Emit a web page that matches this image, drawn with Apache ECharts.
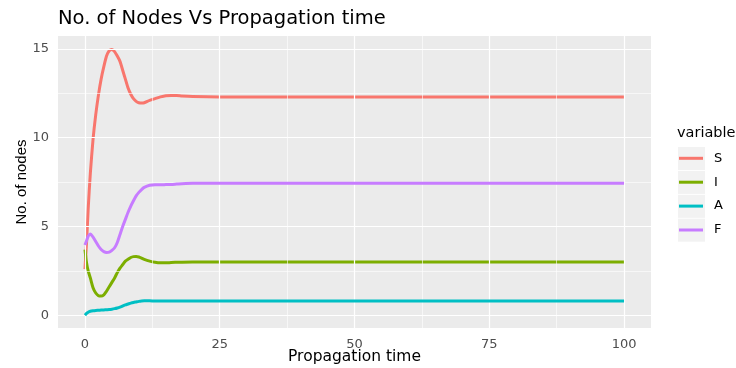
<!DOCTYPE html>
<html><head><meta charset="utf-8">
<script src="https://cdn.jsdelivr.net/npm/echarts@6/dist/echarts.min.js"></script>
<style>html,body{margin:0;padding:0;background:#fff}#c{width:736px;height:368px}</style>
</head><body><div id="c"></div>
<script>
const times = [0, 0.3, 0.6, 1, 1.5, 2, 2.5, 3, 3.5, 4, 4.5, 5, 5.5, 6, 6.5, 7, 7.5, 8, 8.5, 9, 9.5, 10, 10.5, 11, 12, 13, 14, 15, 16, 17, 18, 20, 25, 30, 40, 50, 60, 70, 80, 90, 100];
const S = [2.6, 4.1, 6.0, 8.0, 9.9, 11.3, 12.4, 13.3, 14.0, 14.6, 14.9, 14.97, 14.85, 14.6, 14.3, 13.8, 13.3, 12.8, 12.45, 12.2, 12.05, 11.97, 11.95, 11.97, 12.1, 12.2, 12.3, 12.37, 12.38, 12.38, 12.35, 12.32, 12.3, 12.3, 12.3, 12.3, 12.3, 12.3, 12.3, 12.3, 12.3];
const I = [3.7, 2.95, 2.5, 2.1, 1.55, 1.25, 1.1, 1.08, 1.15, 1.35, 1.6, 1.85, 2.1, 2.4, 2.65, 2.85, 3.05, 3.15, 3.25, 3.3, 3.31, 3.28, 3.22, 3.15, 3.05, 2.98, 2.95, 2.95, 2.97, 2.98, 2.99, 3.0, 3.0, 3.0, 3.0, 3.0, 3.0, 3.0, 3.0, 3.0, 3.0];
const A = [0.0, 0.1, 0.17, 0.22, 0.25, 0.27, 0.28, 0.29, 0.3, 0.31, 0.32, 0.34, 0.37, 0.41, 0.46, 0.52, 0.58, 0.63, 0.68, 0.72, 0.75, 0.78, 0.8, 0.81, 0.81, 0.8, 0.8, 0.8, 0.8, 0.8, 0.8, 0.8, 0.8, 0.8, 0.8, 0.8, 0.8, 0.8, 0.8, 0.8, 0.8];
const F = [3.95, 4.2, 4.45, 4.58, 4.4, 4.15, 3.9, 3.7, 3.58, 3.53, 3.55, 3.65, 3.8, 4.1, 4.55, 5.0, 5.4, 5.8, 6.15, 6.45, 6.72, 6.92, 7.08, 7.2, 7.32, 7.35, 7.35, 7.36, 7.37, 7.39, 7.41, 7.43, 7.43, 7.43, 7.43, 7.43, 7.43, 7.43, 7.43, 7.43, 7.43];
const seriesNames = ['S', 'I', 'A', 'F'];
const seriesValues = [S, I, A, F];
const colors = ['#F8766D', '#7CAE00', '#00BFC4', '#C77CFF'];
const xTicks = [0, 25, 50, 75, 100];
const xMinor = [12.5, 37.5, 62.5, 87.5];
const yTicks = [0, 5, 10, 15];
const yMinor = [2.5, 7.5, 12.5];

const chart = echarts.init(document.getElementById('c'), null, {renderer: 'canvas'});
const gridLines = [];
xMinor.forEach(v => gridLines.push({xAxis: v, lineStyle: {width: 0.6}}));
yMinor.forEach(v => gridLines.push({yAxis: v, lineStyle: {width: 0.6}}));
xTicks.forEach(v => gridLines.push({xAxis: v, lineStyle: {width: 1.2}}));
yTicks.forEach(v => gridLines.push({yAxis: v, lineStyle: {width: 1.2}}));

const series = [{
  name: 'grid', type: 'line', data: [], z: 1, silent: true,
  markLine: {silent: true, symbol: ['none', 'none'], label: {show: false}, animation: false,
    lineStyle: {color: '#FFFFFF', type: 'solid'}, data: gridLines}
}];
seriesNames.forEach((n, k) => series.push({
  name: n, type: 'line', z: 3 + k, symbol: 'none', smooth: 0.25,
  lineStyle: {width: 3, color: colors[k]}, itemStyle: {color: colors[k]},
  data: times.map((t, i) => [t, seriesValues[k][i]])
}));

const FONT = 'DejaVu Sans';
chart.setOption({
  animation: false,
  backgroundColor: '#FFFFFF',
  title: [
    {text: 'No. of Nodes Vs Propagation time', left: 58, top: 9, padding: 0,
     textStyle: {fontFamily: FONT, fontSize: 19.5, fontWeight: 'normal', color: '#000'}},
    {text: 'variable', left: 677, top: 126, padding: 0,
     textStyle: {fontFamily: FONT, fontSize: 14.5, fontWeight: 'normal', color: '#000'}}
  ],
  graphic: [0, 1, 2, 3].map(i => ({type: 'rect', left: 678, top: 147 + i * 23.9, z: 0,
    shape: {width: 27, height: 23}, style: {fill: '#F2F2F2'}})),
  legend: {
    data: seriesNames, orient: 'vertical', left: 679, top: 147.8, padding: 0,
    icon: 'rect', itemWidth: 24, itemHeight: 3, itemGap: 2.9,
    textStyle: {fontFamily: FONT, fontSize: 13, color: '#000', lineHeight: 21, padding: [0, 0, 0, 6]}
  },
  grid: {left: 58, right: 85, top: 36, bottom: 40, containLabel: false, outerBoundsMode: 'none',
         show: true, backgroundColor: '#EBEBEB', borderWidth: 0},
  xAxis: {
    type: 'value', min: -5, max: 105,
    name: 'Propagation time', nameLocation: 'middle', nameGap: 21, nameMoveOverlap: false,
    nameTextStyle: {fontFamily: FONT, fontSize: 15.5, color: '#000'},
    axisLine: {show: false},
    axisTick: {show: true, length: 3, customValues: xTicks, lineStyle: {color: '#333', width: 1}},
    axisLabel: {customValues: xTicks, fontFamily: FONT, fontSize: 13, color: '#4D4D4D', margin: 10},
    splitLine: {show: false}
  },
  yAxis: {
    type: 'value', min: -0.72, max: 15.73,
    name: 'No. of nodes', nameLocation: 'middle', nameGap: 29, nameRotate: 90, nameMoveOverlap: false,
    nameTextStyle: {fontFamily: 'Liberation Sans', fontSize: 15, color: '#000'},
    axisLine: {show: false},
    axisTick: {show: true, length: 3, customValues: yTicks, lineStyle: {color: '#333', width: 1}},
    axisLabel: {customValues: yTicks, fontFamily: FONT, fontSize: 13, color: '#4D4D4D', margin: 9},
    splitLine: {show: false}
  },
  series: series
});
</script></body></html>
